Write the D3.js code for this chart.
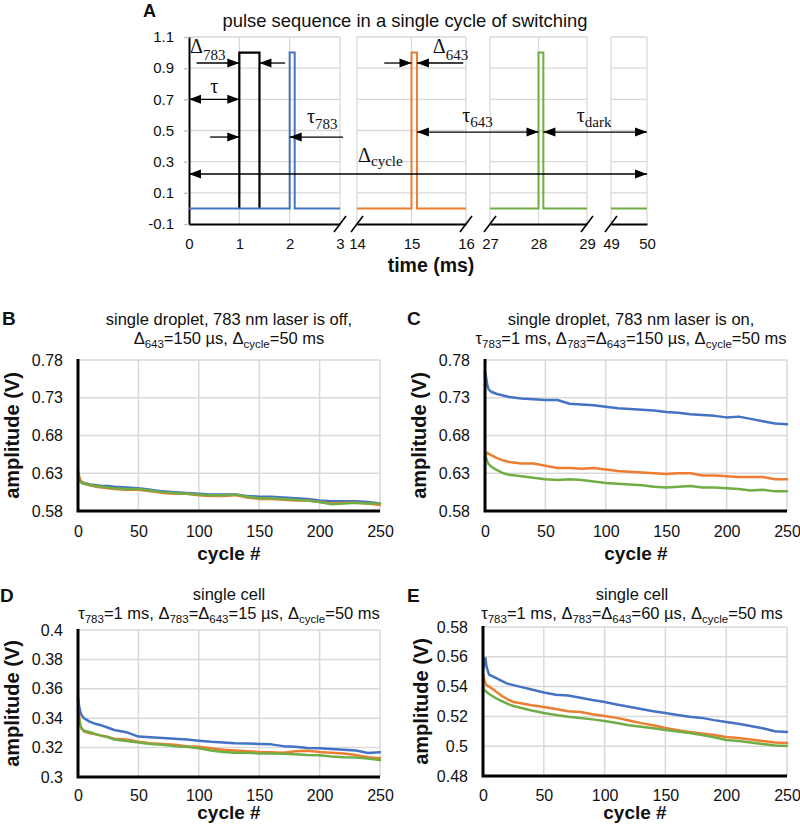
<!DOCTYPE html>
<html><head><meta charset="utf-8">
<script src="https://cdn.jsdelivr.net/npm/d3@7"></script>
<style>body{margin:0;background:#fff} svg{display:block}</style>
</head><body>
<svg id="chart" width="800" height="828"></svg>
<script>
// ================= DATA =================
// Panel A: pulse sequence (time in ms, amplitude)
const segments = [[0,3],[14,16],[27,29],[49,50]];
const segTicks = [[0,1,2,3],[14,15,16],[27,28,29],[49,50]];
const ampTickLabels = ["1.1","0.9","0.7","0.5","0.3","0.1","-0.1"];
const pulseBlackT = [1,1,1.4,1.4];
const pulseBlackV = [0,1,1,0];
const pulseBlueT = [0,2,2,2.1,2.1,3];
const pulseBlueV = [0,0,1,1,0,0];
const pulseOrangeT = [14,15,15,15.1,15.1,16];
const pulseOrangeV = [0,0,1,1,0,0];
const pulseGreenT = [27,28,28,28.1,28.1,29];
const pulseGreenV = [0,0,1,1,0,0];
const pulseGreenEndT = [49,50];
const pulseGreenEndV = [0,0];

// Panels B-E: amplitude (V) vs cycle #
const cycles = [0,1,2,3,5,10,15,20,25,30,40,50,60,70,80,90,100,110,120,130,140,150,160,170,180,190,200,210,220,230,240,250];
const cycleTickLabels = ["0","50","100","150","200","250"];
const tickLabelsBC = ["0.58","0.63","0.68","0.73","0.78"];
const tickLabelsD = ["0.3","0.32","0.34","0.36","0.38","0.4"];
const tickLabelsE = ["0.48","0.5","0.52","0.54","0.56","0.58"];

const bBlue   = [0.630,0.624,0.620,0.618,0.617,0.615,0.614,0.613,0.613,0.612,0.611,0.610,0.608,0.606,0.605,0.604,0.603,0.602,0.602,0.602,0.600,0.599,0.599,0.598,0.597,0.596,0.594,0.593,0.593,0.593,0.592,0.590];
const bOrange = [0.633,0.626,0.621,0.619,0.617,0.614,0.612,0.611,0.610,0.609,0.608,0.608,0.606,0.604,0.603,0.603,0.601,0.600,0.600,0.601,0.598,0.596,0.596,0.595,0.594,0.594,0.592,0.590,0.591,0.591,0.590,0.588];
const bGreen  = [0.627,0.622,0.619,0.617,0.616,0.614,0.613,0.612,0.611,0.610,0.609,0.609,0.607,0.605,0.604,0.603,0.602,0.601,0.601,0.602,0.599,0.597,0.597,0.596,0.595,0.594,0.592,0.589,0.590,0.591,0.590,0.590];

const cBlue   = [0.764,0.756,0.746,0.741,0.738,0.735,0.733,0.731,0.730,0.729,0.728,0.727,0.727,0.722,0.721,0.720,0.718,0.716,0.715,0.714,0.713,0.711,0.710,0.708,0.707,0.706,0.704,0.705,0.702,0.699,0.696,0.695];
const cOrange = [0.652,0.655,0.657,0.656,0.654,0.650,0.647,0.645,0.644,0.643,0.643,0.640,0.637,0.637,0.636,0.637,0.635,0.633,0.632,0.631,0.630,0.629,0.630,0.630,0.627,0.627,0.626,0.625,0.625,0.625,0.622,0.622];
const cGreen  = [0.657,0.650,0.645,0.642,0.639,0.634,0.630,0.628,0.627,0.626,0.624,0.622,0.621,0.622,0.621,0.619,0.617,0.616,0.615,0.614,0.612,0.611,0.612,0.613,0.611,0.611,0.610,0.609,0.607,0.608,0.606,0.606];

const dBlue   = [0.354,0.348,0.344,0.342,0.340,0.3375,0.336,0.335,0.3335,0.332,0.3305,0.3275,0.327,0.3265,0.326,0.3255,0.3247,0.324,0.3235,0.323,0.3228,0.3225,0.3222,0.321,0.3205,0.3198,0.3195,0.319,0.3185,0.318,0.3163,0.3168];
const dOrange = [0.353,0.340,0.335,0.333,0.331,0.3298,0.329,0.328,0.3272,0.326,0.3255,0.324,0.323,0.3225,0.322,0.321,0.3205,0.3195,0.3185,0.318,0.3175,0.317,0.3168,0.3165,0.3175,0.3178,0.317,0.3165,0.316,0.315,0.3135,0.3128];
const dGreen  = [0.345,0.339,0.335,0.333,0.3315,0.3305,0.329,0.328,0.327,0.3255,0.3245,0.3235,0.3225,0.322,0.321,0.3205,0.3195,0.318,0.317,0.3165,0.3165,0.316,0.316,0.3158,0.3155,0.315,0.3148,0.314,0.3135,0.3133,0.3125,0.3115];

const eBlue   = [0.551,0.556,0.559,0.553,0.548,0.546,0.544,0.542,0.541,0.540,0.538,0.536,0.5345,0.534,0.5325,0.531,0.5297,0.528,0.5265,0.525,0.5235,0.5223,0.521,0.5198,0.519,0.5175,0.5162,0.515,0.5135,0.512,0.510,0.5095];
const eOrange = [0.548,0.545,0.542,0.541,0.540,0.537,0.534,0.5315,0.5297,0.529,0.5275,0.5263,0.525,0.5235,0.523,0.5215,0.5203,0.519,0.5172,0.5155,0.514,0.5122,0.5108,0.5095,0.5085,0.5075,0.5062,0.5055,0.5045,0.5035,0.5025,0.5021];
const eGreen  = [0.539,0.538,0.537,0.5364,0.535,0.5325,0.5305,0.5285,0.527,0.526,0.524,0.5223,0.521,0.5198,0.519,0.518,0.5169,0.5155,0.514,0.513,0.512,0.5109,0.5098,0.5088,0.5075,0.506,0.5042,0.5035,0.5025,0.5015,0.5005,0.5001];

// ================= DRAWING =================
const svg = d3.select("#chart");
const SANS = "'Liberation Sans', Arial, sans-serif";
const SERIF = "'Liberation Serif', 'Times New Roman', serif";
const COL = {blue:"#4472C4", orange:"#ED7D31", green:"#70AD47", grid:"#D9D9D9", text:"#111"};

function rich(g, x, y, parts, o) {
  const t = g.append("text").attr("x", x).attr("y", y)
    .attr("text-anchor", o.anchor || "start")
    .attr("font-family", o.family).attr("font-size", o.size)
    .attr("font-weight", o.weight || "normal")
    .attr("fill", o.fill || COL.text);
  let cur = 0;
  parts.forEach(p => {
    const isSub = Array.isArray(p);
    const target = isSub ? o.shift : 0;
    t.append("tspan").text(isSub ? p[0] : p)
      .attr("dy", target - cur)
      .attr("font-size", isSub ? o.subSize : o.size);
    cur = target;
  });
  return t;
}

// ---------- Panel A ----------
const gA = svg.append("g");
const ampTicks = ampTickLabels.map(Number);
const yA = d3.scaleLinear().domain([-0.1, 1.1]).range([224, 37]);
const segPx = [[189,340],[357,466],[490,587],[611,647]];
const xA = segments.map((d,i) => d3.scaleLinear().domain(d).range(segPx[i]));
const X = (s,t) => xA[s](t);

segments.forEach((seg, i) => {
  const x = xA[i];
  gA.append("g").selectAll("line").data(ampTicks.filter(v => v > -0.05)).join("line")
    .attr("x1", x(seg[0])).attr("x2", x(seg[1]))
    .attr("y1", d => yA(d)).attr("y2", d => yA(d))
    .attr("stroke", COL.grid).attr("stroke-width", 1.3);
  gA.append("g").selectAll("line").data(segTicks[i].filter(v => v !== 0)).join("line")
    .attr("x1", d => x(d)).attr("x2", d => x(d))
    .attr("y1", yA(1.1)).attr("y2", yA(-0.1))
    .attr("stroke", COL.grid).attr("stroke-width", 1.3);
});

// y axis
const yAxA = gA.append("g").attr("transform", `translate(${segPx[0][0]},0)`)
  .call(d3.axisLeft(yA).tickValues(ampTicks).tickFormat((d,i) => ampTickLabels[i])
        .tickSize(5).tickPadding(10).tickSizeOuter(0));
yAxA.select(".domain").attr("stroke", "#000").attr("stroke-width", 2);
yAxA.selectAll(".tick line").attr("stroke", "#bfbfbf").attr("stroke-width", 1.3);
yAxA.selectAll("text").attr("font-family", SANS).attr("font-size", 15).attr("fill", COL.text);

// x axes per segment
segments.forEach((seg, i) => {
  const ax = gA.append("g").attr("transform", `translate(0,${yA(-0.1)})`)
    .call(d3.axisBottom(xA[i]).tickValues(segTicks[i]).tickFormat(d3.format("d"))
          .tickSize(0).tickPadding(14).tickSizeOuter(0));
  ax.select(".domain").attr("stroke", "#000").attr("stroke-width", 2);
  ax.selectAll("text").attr("font-family", SANS).attr("font-size", 15).attr("fill", COL.text);
  const brk = [];
  if (i > 0) brk.push(xA[i](seg[0]));
  if (i < segments.length - 1) brk.push(xA[i](seg[1]));
  brk.forEach(bx => {
    gA.append("line").attr("x1", bx - 6).attr("y1", yA(-0.1) + 8)
      .attr("x2", bx + 6).attr("y2", yA(-0.1) - 8)
      .attr("stroke", "#000").attr("stroke-width", 1.6);
  });
});

// pulses
function pulse(seg, T, V, color, w) {
  gA.append("path").datum(T.map((t,i) => [t, V[i]]))
    .attr("d", d3.line().x(d => X(seg, d[0])).y(d => yA(d[1])))
    .attr("fill", "none").attr("stroke", color).attr("stroke-width", w)
    .attr("stroke-linejoin", "miter");
}
pulse(0, pulseBlackT, pulseBlackV, "#000", 2.2);
pulse(0, pulseBlueT, pulseBlueV, COL.blue, 2);
pulse(1, pulseOrangeT, pulseOrangeV, COL.orange, 2);
pulse(2, pulseGreenT, pulseGreenV, COL.green, 2);
pulse(3, pulseGreenEndT, pulseGreenEndV, COL.green, 2);

// arrows
function head(xTip, y, dir) {
  const L = 12, H = 4.5;
  gA.append("path")
    .attr("d", `M${xTip},${y} L${xTip - dir*L},${y - H} L${xTip - dir*L},${y + H} Z`)
    .attr("fill", "#000");
}
function arrow(x1, x2, amp, both) {
  const y = yA(amp);
  gA.append("line").attr("x1", x1).attr("x2", x2).attr("y1", y).attr("y2", y)
    .attr("stroke", "#000").attr("stroke-width", 1.3);
  head(x2, y, Math.sign(x2 - x1));
  if (both) head(x1, y, Math.sign(x1 - x2));
}
arrow(X(0,0.15), X(0,1), 0.933);
arrow(X(0,1.91), X(0,1.4), 0.933);
arrow(X(0,0), X(0,1), 0.70, true);
arrow(X(0,0.42), X(0,1), 0.458);
arrow(X(0,3.06), X(0,2), 0.458);
arrow(X(1,14.5), X(1,15), 0.933);
arrow(X(1,15.95), X(1,15.1), 0.933);
arrow(X(1,15.1), X(2,28), 0.49, true);
arrow(X(2,28.1), X(3,50), 0.49, true);
arrow(X(0,0), X(3,50), 0.221, true);

const lab = {family: SERIF, size: 20, subSize: 15, shift: 6};
rich(gA, X(0,0.02), yA(1.0), ["Δ", ["783"]], {...lab, shift: 7});
rich(gA, X(0,0.5), yA(0.74), ["τ"], {...lab, anchor: "middle"});
rich(gA, X(0,2.345), yA(0.55), ["τ", ["783"]], lab);
rich(gA, X(1,15.39), yA(1.0), ["Δ", ["643"]], {...lab, shift: 7});
rich(gA, X(1,15.93), yA(0.555), ["τ", ["643"]], {...lab, shift: 5});
rich(gA, X(2,28.79), yA(0.555), ["τ", ["dark"]], {...lab, shift: 5});
rich(gA, X(0,3.36), yA(0.295), ["Δ", ["cycle"]], {...lab, shift: 4});

gA.append("text").attr("x", 405).attr("y", 27).attr("text-anchor", "middle")
  .attr("font-family", SANS).attr("font-size", 18.4).attr("fill", COL.text)
  .text("pulse sequence in a single cycle of switching");
gA.append("text").attr("x", 143).attr("y", 17)
  .attr("font-family", SANS).attr("font-size", 18).attr("font-weight", "bold").attr("fill", COL.text)
  .text("A");
gA.append("text").attr("x", 431).attr("y", 272).attr("text-anchor", "middle")
  .attr("font-family", SANS).attr("font-size", 19.5).attr("font-weight", "bold").attr("fill", COL.text)
  .text("time (ms)");

// ---------- Panels B-E ----------
const panels = [
  {letter:"B", lx:2, ly:325, x0:78, x1:380, y0:360, y1:511, labels:tickLabelsBC,
   series:[bBlue,bOrange,bGreen], tx:229, t1y:325, t2y:344, ylx:19, xpad:15, xty:560,
   t1:"single droplet, 783 nm laser is off,",
   t2:["Δ",["643"],"=150 µs, Δ",["cycle"],"=50 ms"]},
  {letter:"C", lx:407, ly:325, x0:485, x1:787, y0:360, y1:511, labels:tickLabelsBC,
   series:[cBlue,cOrange,cGreen], tx:631, t1y:325, t2y:344, ylx:426, xpad:15, xty:560,
   t1:"single droplet, 783 nm laser is on,",
   t2:["τ",["783"],"=1 ms, Δ",["783"],"=Δ",["643"],"=150 µs, Δ",["cycle"],"=50 ms"]},
  {letter:"D", lx:0, ly:602, x0:78, x1:380, y0:630, y1:777, labels:tickLabelsD,
   series:[dBlue,dOrange,dGreen], tx:229, t1y:600, t2y:619, ylx:19, xpad:13, xty:819,
   t1:"single cell",
   t2:["τ",["783"],"=1 ms, Δ",["783"],"=Δ",["643"],"=15 µs, Δ",["cycle"],"=50 ms"]},
  {letter:"E", lx:407, ly:602, x0:483, x1:787, y0:627, y1:776, labels:tickLabelsE,
   series:[eBlue,eOrange,eGreen], tx:632, t1y:600, t2y:619, ylx:428, xpad:14, xty:819,
   t1:"single cell",
   t2:["τ",["783"],"=1 ms, Δ",["783"],"=Δ",["643"],"=60 µs, Δ",["cycle"],"=50 ms"]}
];
const seriesColors = [COL.blue, COL.orange, COL.green];
const cycleTicks = cycleTickLabels.map(Number);

panels.forEach(p => {
  const g = svg.append("g");
  const yt = p.labels.map(Number);
  const x = d3.scaleLinear().domain([0, 250]).range([p.x0, p.x1]);
  const y = d3.scaleLinear().domain([d3.min(yt), d3.max(yt)]).range([p.y1, p.y0]);

  g.append("g").selectAll("line").data(yt.slice(1)).join("line")
    .attr("x1", p.x0).attr("x2", p.x1).attr("y1", d => y(d)).attr("y2", d => y(d))
    .attr("stroke", COL.grid).attr("stroke-width", 1.5);
  g.append("g").selectAll("line").data(cycleTicks.slice(1)).join("line")
    .attr("x1", d => x(d)).attr("x2", d => x(d)).attr("y1", p.y0).attr("y2", p.y1)
    .attr("stroke", COL.grid).attr("stroke-width", 1.5);

  const ay = g.append("g").attr("transform", `translate(${p.x0},0)`)
    .call(d3.axisLeft(y).tickValues(yt).tickFormat((d,i) => p.labels[i]).tickSize(0).tickPadding(15));
  ay.select(".domain").remove();
  ay.selectAll("text").attr("font-family", SANS).attr("font-size", 16).attr("fill", COL.text);

  const ax = g.append("g").attr("transform", `translate(0,${p.y1})`)
    .call(d3.axisBottom(x).tickValues(cycleTicks).tickFormat((d,i) => cycleTickLabels[i]).tickSize(0).tickPadding(p.xpad));
  ax.select(".domain").remove();
  ax.selectAll("text").attr("font-family", SANS).attr("font-size", 16).attr("fill", COL.text);

  p.series.forEach((s, k) => {
    g.append("path").datum(s)
      .attr("d", d3.line().x((d,i) => x(cycles[i])).y(d => y(d)))
      .attr("fill", "none").attr("stroke", seriesColors[k]).attr("stroke-width", 2.5)
      .attr("stroke-linejoin", "round").attr("stroke-linecap", "round");
  });

  g.append("path").attr("d", `M${p.x0},${p.y0 - 1} V${p.y1} H${p.x1}`)
    .attr("fill", "none").attr("stroke", "#000").attr("stroke-width", 3);

  g.append("text").attr("x", p.lx).attr("y", p.ly)
    .attr("font-family", SANS).attr("font-size", 19).attr("font-weight", "bold").attr("fill", COL.text)
    .text(p.letter);
  g.append("text").attr("x", p.tx).attr("y", p.t1y).attr("text-anchor", "middle")
    .attr("font-family", SANS).attr("font-size", 16.5).attr("fill", COL.text).text(p.t1);
  rich(g, p.tx, p.t2y, p.t2, {family: SANS, size: 16.5, subSize: 11.5, shift: 4, anchor: "middle"});

  g.append("text")
    .attr("transform", `translate(${p.ylx},${(p.y0 + p.y1) / 2}) rotate(-90)`)
    .attr("text-anchor", "middle").attr("font-family", SANS).attr("font-size", 20)
    .attr("font-weight", "bold").attr("fill", COL.text).text("amplitude (V)");
  g.append("text").attr("x", (p.x0 + p.x1) / 2).attr("y", p.xty).attr("text-anchor", "middle")
    .attr("font-family", SANS).attr("font-size", 19).attr("font-weight", "bold").attr("fill", COL.text)
    .text("cycle #");
});
</script>
</body></html>
